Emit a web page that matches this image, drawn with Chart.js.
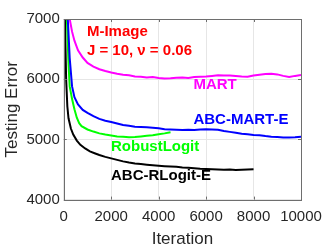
<!DOCTYPE html>
<html>
<head>
<meta charset="UTF-8">
<title>M-Image testing error</title>
<style>
  html, body { margin: 0; padding: 0; background: #fff; }
  #wrap { width: 332px; height: 249px; }
</style>
<script src="https://cdn.jsdelivr.net/npm/chart.js@4/dist/chart.umd.min.js"></script>
</head>
<body>
<div id="wrap"><canvas id="c" width="332" height="249"></canvas></div>
<script>
// MART
const martIter = [150, 250, 350, 450, 600, 800, 1000, 1250, 1500, 1750, 2000, 2250, 2500, 2750, 3000, 3250, 3500, 3750, 4000, 4250, 4500, 4750, 5000, 5250, 5500, 5750, 6000, 6250, 6500, 6750, 7000, 7250, 7500, 7750, 8000, 8250, 8500, 8750, 9000, 9250, 9500, 9750, 10000];
const martErr = [7500, 7000, 6790, 6640, 6480, 6360, 6270, 6210, 6165, 6135, 6110, 6090, 6075, 6065, 6045, 6040, 6030, 6035, 6020, 6010, 6015, 6025, 6030, 6020, 6035, 6040, 6045, 6055, 6065, 6060, 6060, 6055, 6045, 6040, 6060, 6075, 6085, 6090, 6080, 6055, 6035, 6055, 6070];

// ABC-MART-E
const abcMartIter = [100, 170, 250, 350, 450, 600, 800, 1000, 1250, 1500, 1750, 2000, 2250, 2500, 2750, 3000, 3250, 3500, 3750, 4000, 4250, 4500, 4750, 5000, 5250, 5500, 5750, 6000, 6250, 6500, 6750, 7000, 7250, 7500, 7750, 8000, 8250, 8500, 8750, 9000, 9250, 9500, 9750, 10000];
const abcMartErr = [7600, 7000, 6350, 5880, 5700, 5580, 5490, 5440, 5385, 5340, 5310, 5290, 5265, 5240, 5225, 5210, 5205, 5200, 5195, 5185, 5170, 5165, 5160, 5155, 5160, 5158, 5165, 5168, 5163, 5160, 5140, 5125, 5110, 5095, 5085, 5075, 5070, 5055, 5045, 5040, 5030, 5030, 5035, 5045];

// RobustLogit
const robustIter = [60, 130, 200, 250, 350, 450, 550, 650, 750, 1000, 1250, 1500, 1750, 2000, 2250, 2500, 2750, 3000, 3250, 3500, 3750, 4000, 4250, 4500];
const robustErr = [7600, 7000, 6250, 5880, 5670, 5500, 5360, 5270, 5220, 5165, 5130, 5100, 5080, 5065, 5050, 5045, 5035, 5040, 5050, 5060, 5070, 5085, 5100, 5120];

// ABC-RLogit-E
const abcRlIter = [20, 50, 100, 150, 200, 300, 400, 550, 700, 900, 1100, 1300, 1500, 1750, 2000, 2250, 2500, 2750, 3000, 3250, 3500, 3750, 4000, 4250, 4500, 4750, 5000, 5250, 5500, 5750, 6000, 6250, 6500, 6750, 7000, 7250, 7500, 7750, 8000];
const abcRlErr = [7600, 7000, 6000, 5550, 5350, 5180, 5080, 4980, 4910, 4850, 4800, 4770, 4740, 4710, 4685, 4660, 4635, 4615, 4600, 4590, 4580, 4570, 4562, 4555, 4550, 4545, 4535, 4528, 4520, 4512, 4508, 4505, 4500, 4495, 4498, 4490, 4495, 4500, 4505];

const xTicks = [0, 2000, 4000, 6000, 8000, 10000];
const yTicks = [4000, 5000, 6000, 7000];

const FONT = '"Liberation Sans", Arial, Helvetica, sans-serif';

function pts(xs, ys) { return xs.map((x, i) => ({ x: x, y: ys[i] })); }

function series(label, xs, ys, color) {
  return {
    label: label,
    data: pts(xs, ys),
    borderColor: color,
    backgroundColor: color,
    borderWidth: 2,
    pointRadius: 0,
    tension: 0,
    fill: false
  };
}

// text inside the axes, positioned in data units
const notes = [
  { text: 'M-Image', x: 975, y: 6787, color: '#ff0000' },
  { text: 'J = 10, \u03bd = 0.06', x: 975, y: 6475, color: '#ff0000' },
  { text: 'MART', x: 5466, y: 5902, color: '#ff00ff' },
  { text: 'ABC-MART-E', x: 5466, y: 5328, color: '#0000ff' },
  { text: 'RobustLogit', x: 1990, y: 4869, color: '#00ff00' },
  { text: 'ABC-RLogit-E', x: 1990, y: 4393, color: '#000000' }
];

const boxPlugin = {
  id: 'box',
  afterDatasetsDraw(chart) {
    const { ctx, scales } = chart;
    ctx.save();
    ctx.font = 'bold 15px ' + FONT;
    ctx.textAlign = 'left';
    ctx.textBaseline = 'middle';
    notes.forEach(n => {
      ctx.fillStyle = n.color;
      ctx.fillText(n.text, scales.x.getPixelForValue(n.x), scales.y.getPixelForValue(n.y));
    });
    ctx.restore();
  },
  afterDraw(chart) {
    const { ctx, chartArea: a, scales } = chart;
    ctx.save();
    ctx.strokeStyle = '#6e6e6e';
    ctx.lineWidth = 1;
    ctx.strokeRect(Math.round(a.left) + 0.5, Math.round(a.top) + 0.5,
      Math.round(a.right - a.left), Math.round(a.bottom - a.top));
    ctx.beginPath();
    xTicks.forEach(v => {
      const px = Math.round(scales.x.getPixelForValue(v)) + 0.5;
      ctx.moveTo(px, a.bottom); ctx.lineTo(px, a.bottom - 3);
      ctx.moveTo(px, a.top); ctx.lineTo(px, a.top + 3);
    });
    yTicks.forEach(v => {
      const py = Math.round(scales.y.getPixelForValue(v)) + 0.5;
      ctx.moveTo(a.left, py); ctx.lineTo(a.left + 3, py);
      ctx.moveTo(a.right, py); ctx.lineTo(a.right - 3, py);
    });
    ctx.stroke();
    ctx.restore();
  }
};

new Chart(document.getElementById('c'), {
  type: 'line',
  data: {
    datasets: [
      series('MART', martIter, martErr, '#ff00ff'),
      series('ABC-MART-E', abcMartIter, abcMartErr, '#0000ff'),
      series('RobustLogit', robustIter, robustErr, '#00ff00'),
      series('ABC-RLogit-E', abcRlIter, abcRlErr, '#000000')
    ]
  },
  options: {
    responsive: false,
    animation: false,
    devicePixelRatio: 1,
    layout: { padding: { left: 2, right: 31, top: 19, bottom: 0 } },
    plugins: { legend: { display: false }, tooltip: { enabled: false } },
    scales: {
      x: {
        type: 'linear',
        min: 0, max: 10000,
        afterBuildTicks: s => { s.ticks = xTicks.map(v => ({ value: v })); },
        grid: { color: '#e6e6e6', drawTicks: false },
        border: { display: false },
        ticks: { color: '#262626', font: { family: FONT, size: 15 }, padding: 8, maxRotation: 0, autoSkip: false, callback: v => String(v) },
        title: { display: true, text: 'Iteration', color: '#262626', font: { family: FONT, size: 17 }, padding: { top: -4, bottom: -1 } }
      },
      y: {
        type: 'linear',
        min: 4000, max: 7000,
        afterBuildTicks: s => { s.ticks = yTicks.map(v => ({ value: v })); },
        grid: { color: '#e6e6e6', drawTicks: false },
        border: { display: false },
        ticks: { color: '#262626', font: { family: FONT, size: 15 }, padding: 4, autoSkip: false, callback: v => String(v) },
        title: { display: true, text: 'Testing Error', color: '#262626', font: { family: FONT, size: 17 }, padding: { top: 0, bottom: 0 } }
      }
    }
  },
  plugins: [boxPlugin]
});
</script>
</body>
</html>
